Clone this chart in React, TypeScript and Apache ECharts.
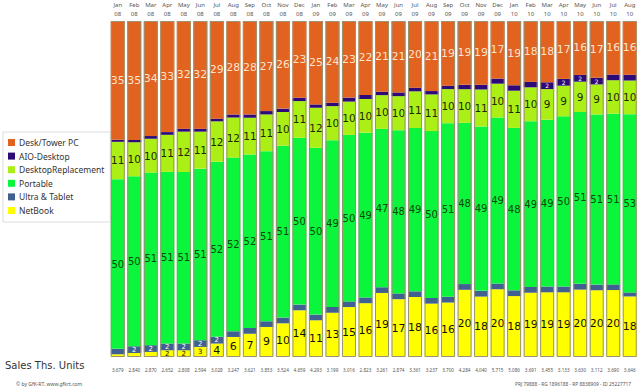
import React, { useEffect, useRef } from "react";
import * as echarts from "echarts";

const months = ["Jan 08","Feb 08","Mar 08","Apr 08","May 08","Jun 08","Jul 08","Aug 08","Sep 08","Oct 08","Nov 08","Dec 08","Jan 09","Feb 09","Mar 09","Apr 09","May 09","Jun 09","Jul 09","Aug 09","Sep 09","Oct 09","Nov 09","Dec 09","Jan 10","Feb 10","Mar 10","Apr 10","May 10","Jun 10","Jul 10","Aug 10"];
const totals = ["3.679","2.840","2.870","2.652","2.808","2.594","3.028","3.247","3.621","3.853","3.524","4.659","4.293","3.199","3.016","2.823","3.261","2.874","3.361","3.237","3.700","4.284","4.040","5.715","5.086","3.691","3.455","3.133","3.630","3.112","3.690","3.646"];

const deskTower = [35,35,34,33,32,32,29,28,28,27,26,23,25,24,23,22,21,21,20,21,19,19,19,17,19,18,18,17,16,17,16,16];
const aioDesktop = [0.6,0.7,0.8,0.8,0.9,0.9,0.8,0.9,1,1,1,1,1,1,1.2,1.2,1,1.1,1.1,1,1,1.3,1.4,1.5,1.6,1.6,2,2,2,2,1.7,1.7];
const desktopReplacement = [11,10,10,11,12,11,12,12,11,11,10,11,12,10,10,10,10,10,11,11,10,10,11,10,11,10,9,9,9,9,10,10];
const portable = [50,50,51,51,51,51,52,52,52,51,51,50,50,49,50,49,47,48,49,50,51,48,49,49,48,49,49,50,51,51,51,53];
const ultraTablet = [1.6,2,2,2,2,2,2,1.7,1.7,1.7,1.7,1.7,1.7,1.7,1.7,1.7,1.7,1.7,1.7,1.7,1.7,1.7,1.7,1.7,1.7,1.7,1.7,1.7,1.7,1.7,1.7,1.2];
const netBook = [0.8,1.2,1.5,2,2,3,4,6,7,9,10,14,11,13,15,16,19,17,18,16,16,20,18,20,18,19,19,19,20,20,20,18];

const FONT = "DejaVu Sans, Verdana, sans-serif";
const SMALL = "Noto Sans, sans-serif";

export default function App() {
  const ref = useRef<HTMLDivElement>(null);
  useEffect(() => {
    if (!ref.current) return;
    const chart = echarts.init(ref.current, null, { renderer: "svg" });
    const sums = months.map((_, i) => deskTower[i] + aioDesktop[i] + desktopReplacement[i] + portable[i] + ultraTablet[i] + netBook[i]);

    const mk = (name: string, raw: number[], color: string, labelColor: string, fontSize: number, minLabel: number, smallSize?: number, smallBelow?: number) => ({
      name,
      type: "bar",
      stack: "s",
      barWidth: 14,
      barGap: "-100%",
      itemStyle: { color },
      data: raw.map((v, i) => ({
        value: (v / sums[i]) * 100,
        raw: v,
        label: {
          show: v >= minLabel,
          fontSize: smallSize && smallBelow && v < smallBelow ? smallSize : fontSize,
        },
      })),
      label: {
        show: true,
        position: "inside",
        color: labelColor,
        fontFamily: FONT,
        fontSize,
        formatter: (p: any) => String(Math.round(p.data.raw)),
      },
    });

    chart.setOption({
      animation: false,
      textStyle: { fontFamily: FONT },
      grid: { left: 109.5, right: 2, top: 20, bottom: 35 },
      legend: {
        orient: "vertical",
        left: 3,
        top: 132,
        data: ["Desk/Tower PC", "AIO-Desktop", "DesktopReplacement", "Portable", "Ultra & Tablet", "NetBook"],
        itemWidth: 7,
        itemHeight: 7,
        itemGap: 4.6,
        padding: [6, 6, 7, 5],
        borderColor: "#dddddd",
        borderWidth: 1,
        icon: "rect",
        textStyle: { fontSize: 8.5, color: "#333", fontFamily: SMALL, padding: [0, 0, 0, -1] },
      },
      xAxis: [
        {
          type: "category",
          position: "top",
          data: months,
          axisLine: { show: false },
          axisTick: { show: false },
          axisLabel: {
            interval: 0,
            fontSize: 6,
            fontFamily: SMALL,
            color: "#555",
            lineHeight: 9,
            margin: 3,
            formatter: (v: string) => v.replace(" ", "\n"),
          },
        },
        {
          type: "category",
          position: "bottom",
          data: totals,
          axisLine: { show: false },
          axisTick: { show: false },
          axisLabel: { interval: 0, fontSize: 4.6, fontFamily: SMALL, color: "#555", margin: 10 },
        },
      ],
      yAxis: { type: "value", min: 0, max: 100, show: false },
      series: [
        mk("NetBook", netBook, "#FFFF00", "#111", 11, 2, 7, 4),
        mk("Ultra & Tablet", ultraTablet, "#3F6090", "#ffffff", 7, 2),
        mk("Portable", portable, "#0BF53C", "#0a4a0a", 10, 0),
        mk("DesktopReplacement", desktopReplacement, "#ACEF16", "#1c2a00", 10.5, 0),
        mk("AIO-Desktop", aioDesktop, "#2D0A78", "#ffffff", 6, 2),
        mk("Desk/Tower PC", deskTower, "#E2621F", "#fde3cc", 11, 0),
        {
          name: "frame",
          type: "bar",
          barWidth: 14,
          barGap: "-100%",
          silent: true,
          z: 5,
          itemStyle: { color: "rgba(0,0,0,0)", borderColor: "#9a9370", borderWidth: 1 },
          data: months.map(() => 100),
        },
      ],
      graphic: [
        { type: "text", left: 5, top: 360, style: { text: "Sales Ths. Units", fontSize: 10, fill: "#333", fontFamily: FONT } },
        { type: "text", left: 16, top: 381, style: { text: "© by GfK-RT, www.gfkrt.com", fontSize: 5, fill: "#555", fontFamily: SMALL } },
        { type: "text", right: 9, top: 381, style: { text: "PRJ 79888 - RG 1896188 - RP 8838909 - ID 25227717", fontSize: 4.8, fill: "#555", fontFamily: SMALL } },
      ],
    });
    return () => chart.dispose();
  }, []);
  return <div ref={ref} style={{ width: 640, height: 392, position: "absolute", left: 0, top: 0 }} />;
}
